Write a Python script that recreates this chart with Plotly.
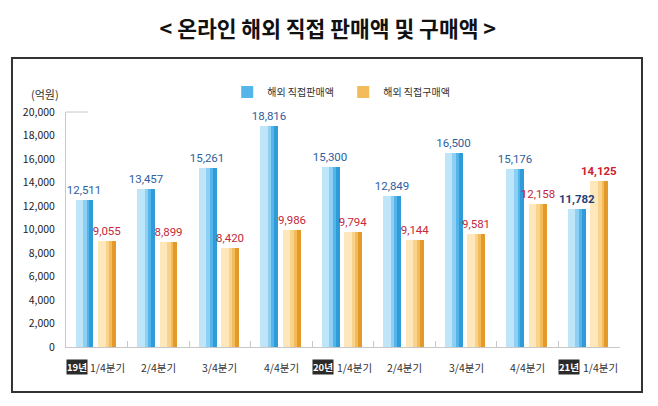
import plotly.graph_objects as go

categories = ["19Q1", "19Q2", "19Q3", "19Q4", "20Q1", "20Q2", "20Q3", "20Q4", "21Q1"]
quarter_labels = ["1/4분기", "2/4분기", "3/4분기", "4/4분기", "1/4분기", "2/4분기", "3/4분기", "4/4분기", "1/4분기"]
year_badges = ["19년", "", "", "", "20년", "", "", "", "21년"]
sales = [12511, 13457, 15261, 18816, 15300, 12849, 16500, 15176, 11782]
purchases = [9055, 8899, 8420, 9986, 9794, 9144, 9581, 12158, 14125]
sales_name = "해외 직접판매액"
purchases_name = "해외 직접구매액"
y_ticks = list(range(0, 20001, 2000))

FONT = "Noto Sans CJK KR"
NUMFONT = "Roboto, sans-serif"

def fmt(v, bold):
    s = f"{v:,}"
    return f"<b>{s}</b>" if bold else s

last = len(categories) - 1
sales_text = [fmt(v, i == last) for i, v in enumerate(sales)]
purch_text = [fmt(v, i == last) for i, v in enumerate(purchases)]
sales_tcol = ["#1F3F7A" if i == last else "#2E5E9E" for i in range(len(sales))]
purch_tcol = ["#D0202E" if i == last else "#C4283A" for i in range(len(purchases))]

fig = go.Figure()

def cylinder(values, name, off, w, light, mid2, mid, dark):
    fig.add_trace(go.Bar(x=categories, y=values, name=name, offset=off, width=w,
                         marker=dict(color=mid, line=dict(width=0)),
                         showlegend=True, hoverinfo="skip"))
    fig.add_trace(go.Bar(x=categories, y=values, offset=off, width=w * 0.42,
                         marker=dict(color=light, line=dict(width=0)),
                         showlegend=False, hoverinfo="skip"))
    fig.add_trace(go.Bar(x=categories, y=values, offset=off + w * 0.42, width=w * 0.2,
                         marker=dict(color=mid2, line=dict(width=0)),
                         showlegend=False, hoverinfo="skip"))
    fig.add_trace(go.Bar(x=categories, y=values, offset=off + w * 0.78, width=w * 0.22,
                         marker=dict(color=dark, line=dict(width=0)),
                         showlegend=False, hoverinfo="skip"))

def labels(values, off, w, text, tcol):
    # transparent bar carrying the value labels, drawn last so labels stay on top
    fig.add_trace(go.Bar(x=categories, y=values, offset=off, width=w,
                         marker=dict(color="rgba(0,0,0,0)", line=dict(width=0)),
                         text=text, textposition="outside", cliponaxis=False,
                         constraintext="none",
                         textfont=dict(color=tcol, size=11.5, family=NUMFONT),
                         showlegend=False, hoverinfo="skip"))

cylinder(sales, sales_name, -0.345, 0.29, "#BFE5F9", "#8ED0F3", "#55B5EA", "#2F9BD8")
cylinder(purchases, purchases_name, 0.02, 0.29, "#FDE7BB", "#F9D38C", "#F3BB5A", "#E39A2A")
labels(sales, -0.35, 0.29, sales_text, sales_tcol)
labels(purchases, 0.02, 0.29, purch_text, purch_tcol)

annotations = [
    dict(text="(억원)", x=-0.038, y=1.075, xref="paper", yref="paper", showarrow=False,
         font=dict(size=11, color="#333333", family=FONT), xanchor="center", yanchor="middle"),
]
for cat, q, b in zip(categories, quarter_labels, year_badges):
    if b:
        annotations.append(dict(text=f"<b>{b}</b>", x=cat, y=-0.087, xref="x", yref="paper",
                                showarrow=False, xshift=-20, bgcolor="#2A2A2A",
                                font=dict(size=9.5, color="white", family=FONT), borderpad=0,
                                xanchor="center", yanchor="middle"))
        annotations.append(dict(text=q, x=cat, y=-0.087, xref="x", yref="paper", showarrow=False,
                                xshift=11, font=dict(size=10.5, color="#333333", family=FONT),
                                xanchor="center", yanchor="middle"))
    else:
        annotations.append(dict(text=q, x=cat, y=-0.087, xref="x", yref="paper", showarrow=False,
                                font=dict(size=10.5, color="#333333", family=FONT),
                                xanchor="center", yanchor="middle"))

fig.update_layout(
    width=650, height=398,
    margin=dict(l=58, r=38, t=104, b=59),
    paper_bgcolor="white", plot_bgcolor="white",
    barmode="overlay",
    title=dict(text="<b>&lt; 온라인 해외 직접 판매액 및 구매액 &gt;</b>", x=0.492, xanchor="center",
               y=0.947, yanchor="middle", font=dict(size=21.5, color="#111111", family=FONT)),
    legend=dict(orientation="h", x=0.291, y=1.085, xanchor="left", yanchor="middle",
                font=dict(size=10, color="#333333", family=FONT), itemwidth=30, entrywidth=71,
                bgcolor="rgba(0,0,0,0)", traceorder="normal"),
    xaxis=dict(type="category", showticklabels=False, showline=True, linecolor="#C8C8C8",
               linewidth=1, ticks="inside", tickson="boundaries", ticklen=6, tickcolor="#C8C8C8",
               showgrid=False, range=[-0.5, 8.5], fixedrange=True),
    yaxis=dict(range=[0, 20000], tickvals=y_ticks, ticktext=[f"{v:,}" for v in y_ticks],
               showline=True, linecolor="#C8C8C8", linewidth=1, showgrid=False, zeroline=False,
               tickfont=dict(size=10.5, color="#222222", family=FONT), ticks="", ticklabelstandoff=8),
    annotations=annotations,
    shapes=[dict(type="rect", xref="paper", yref="paper", x0=-0.0975, x1=1.0397, y0=-0.1915, y1=1.2298,
                 line=dict(color="#333333", width=2), fillcolor="rgba(0,0,0,0)", layer="below"),
            dict(type="line", xref="paper", yref="paper", x0=0, x1=0.04, y0=1, y1=1,
                 line=dict(color="#C8C8C8", width=1))],
    bargap=0,
)

fig.write_html("out.html")
